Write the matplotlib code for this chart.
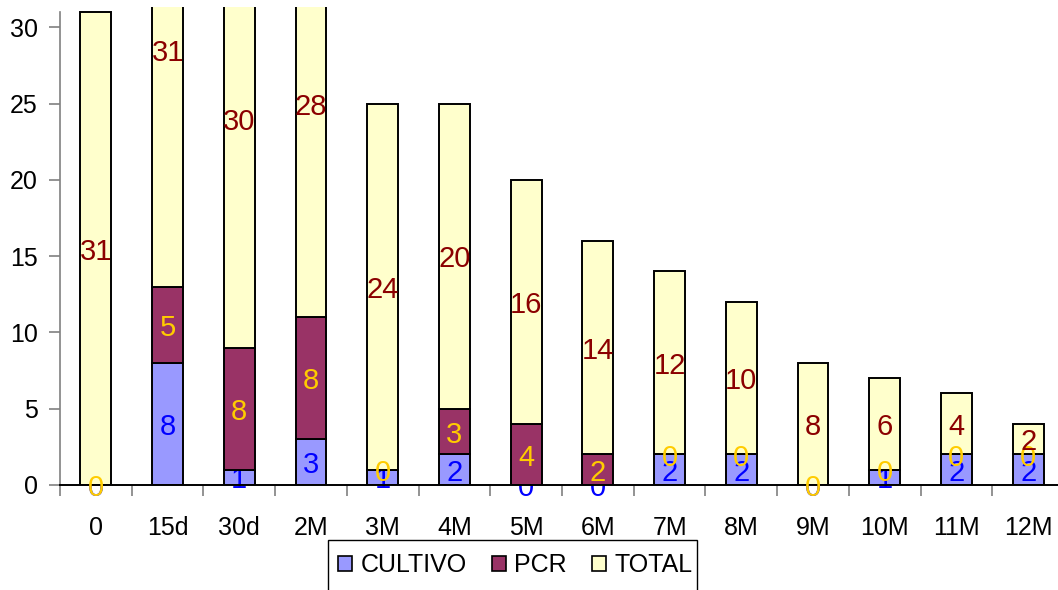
import matplotlib
matplotlib.use("Agg")
import matplotlib.pyplot as plt
from matplotlib.patches import Rectangle
import numpy as np

categories = ["0", "15d", "30d", "2M", "3M", "4M", "5M", "6M", "7M", "8M", "9M", "10M", "11M", "12M"]
cultivo = [0, 8, 1, 3, 1, 2, 0, 0, 2, 2, 0, 1, 2, 2]
pcr = [0, 5, 8, 8, 0, 3, 4, 2, 0, 0, 0, 0, 0, 0]
total = [31, 31, 30, 28, 24, 20, 16, 14, 12, 10, 8, 6, 4, 2]

# name, values, bar fill, label colour, label layer
series = [
    ("CULTIVO", cultivo, "#9999FF", "#0000FF", 3),
    ("PCR", pcr, "#993366", "#FFCC00", 8),
    ("TOTAL", total, "#FFFFCC", "#8B0000", 9),
]

plt.rcParams["font.family"] = ["Liberation Sans", "DejaVu Sans"]

W, H = 1058, 590
fig = plt.figure(figsize=(W / 100, H / 100), dpi=100)
# plot area: x from 60px to ~1064px, y from 7px (top) to 485px (zero line)
ax = fig.add_axes([60 / W, 1 - 485 / H, 1004 / W, 478 / H])

x = np.arange(len(categories))
bottom = np.zeros(len(categories))
width = 0.43
bar_z = [2, 4, 6]
handles = []
for (name, vals, face, txtcol, tz), bz in zip(series, bar_z):
    vals = np.array(vals, dtype=float)
    bars = ax.bar(x, vals, width, bottom=bottom, color=face, edgecolor="black",
                  linewidth=1.4, label=name, zorder=bz)
    handles.append(bars)
    for xi, b, v in zip(x, bottom, vals):
        ax.text(xi, b + v / 2 - 0.2, f"{int(v)}", ha="center", va="center",
                fontsize=21, color=txtcol, zorder=tz)
    bottom = bottom + vals

ax.set_xlim(-0.5, len(categories) - 0.5)
ax.set_ylim(0, 31.34)
ax.set_yticks(range(0, 31, 5))
ax.set_xticks(x)
ax.set_xticklabels(categories)
ax.set_xticks(np.arange(-0.5, len(categories), 1.0), minor=True)

for s in ["top", "right"]:
    ax.spines[s].set_visible(False)
ax.spines["left"].set_bounds(0, 31)
ax.spines["left"].set_color("#808080")
ax.spines["left"].set_linewidth(1.2)
ax.spines["bottom"].set_color("black")
ax.spines["bottom"].set_linewidth(1.4)
ax.spines["bottom"].set_zorder(7)

ax.tick_params(axis="y", direction="out", length=8, width=1.2, color="#808080",
               labelsize=18, pad=8, labelcolor="black")
ax.tick_params(axis="x", which="major", length=0, labelsize=18, pad=22, labelcolor="black")
ax.tick_params(axis="x", which="minor", direction="out", length=8, width=1.2, color="#808080")

leg = fig.legend(handles=handles, labels=[s[0] for s in series], ncol=3,
                 loc="center left", bbox_to_anchor=(338 / W, 1 - 565 / H),
                 frameon=False, fontsize=18, handlelength=0.55, handleheight=0.55,
                 handletextpad=0.35, columnspacing=1.0, borderpad=0.0,
                 borderaxespad=0.0)
for h in leg.legend_handles:
    h.set_linewidth(1.2)

fig.patches.append(Rectangle((328 / W, 1 - 600 / H), (697 - 328) / W, (600 - 540) / H,
                             transform=fig.transFigure, fill=False, edgecolor="black",
                             linewidth=1.0))

fig.savefig("out.png", dpi=100)
